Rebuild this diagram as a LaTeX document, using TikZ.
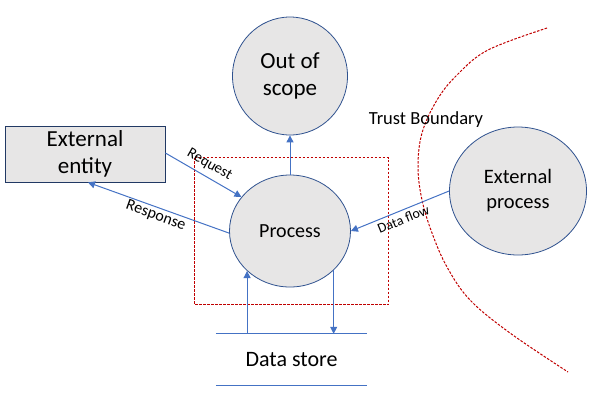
\documentclass[tikz,border=0pt]{standalone}
\usepackage{fontspec}
\setmainfont{Carlito}
\usepackage{xcolor}
\usepackage{tikz}
\usetikzlibrary{shapes.geometric,arrows.meta}

\definecolor{flowblue}{HTML}{4472C4}
\definecolor{edgenavy}{HTML}{2F528F}
\definecolor{bodygray}{HTML}{E7E6E6}
\definecolor{trustred}{HTML}{C00000}

\begin{document}
\begin{tikzpicture}[x=1pt,y=-1pt,>={Triangle[length=7pt,width=7pt]},
    bubble/.style={ellipse,draw=edgenavy,fill=bodygray,line width=0.8pt,inner sep=0pt,align=center},
    entitybox/.style={rectangle,draw=edgenavy!70!black,fill=bodygray,line width=0.8pt,inner sep=0pt,align=center},
    flow/.style={->,draw=flowblue,line width=1pt},
    tag/.style={font=\fontsize{#1}{#1}\selectfont,inner sep=1.5pt},
    trust/.style={draw=trustred,line width=1pt,dash pattern=on 2.5pt off 1.5pt}
]
\useasboundingbox (0,0) rectangle (593,400);

% trust boundary and scope box
\draw[trust] plot[smooth,tension=0.6] coordinates {(547,28) (488,50) (457,75) (437,100) (422,133)
    (418,167) (422,200) (432,233) (447,267) (470,300) (510,333) (568,372)};
\draw[trust] (194.5,157.5) -- (388.5,157.5) -- (388.5,304.5) -- (194.5,304.5) -- cycle;
\node[tag=18.5] (trustlabel) at (426,120) {Trust Boundary};

% elements
\node[bubble,minimum width=115pt,minimum height=118pt,font=\fontsize{23}{27}\selectfont]
    (scope) at (290,76) {Out of\\scope};
\node[entitybox,minimum width=160pt,minimum height=56pt,font=\fontsize{23}{27}\selectfont]
    (entity) at (85,154) {External\\entity};
\node[bubble,minimum width=121pt,minimum height=112pt,font=\fontsize{20}{24}\selectfont]
    (process) at (290,231) {Process};
\node[bubble,minimum width=137pt,minimum height=128pt,font=\fontsize{20.5}{25}\selectfont]
    (extproc) at (518,191) {External\\process};
\node[minimum width=151pt,minimum height=51pt,inner sep=0pt,font=\fontsize{22}{26}\selectfont]
    (store) at (291.5,359.5) {Data store};
\draw[flowblue,line width=1pt] (store.north west) -- (store.north east);
\draw[flowblue,line width=1pt] (store.south west) -- (store.south east);

% flows
\draw[flow] (process.north) -- (scope.south);
\draw[flow] (entity.east |- 0,153) -- (process.145)
    node[midway,sloped,above=4pt,tag=15] {Request};
\draw[flow] (process.182) -- ([xshift=3pt]entity.south)
    node[midway,sloped,below,tag=16] {Response};
\draw[flow] (extproc.west) -- (process.east)
    node[midway,sloped,below,tag=14,yshift=-2pt] {Data flow};
\draw[flow] (store.north -| process.223) -- (process.223);
\draw[flow] (process.318) -- (store.north -| process.318);
\end{tikzpicture}
\end{document}
